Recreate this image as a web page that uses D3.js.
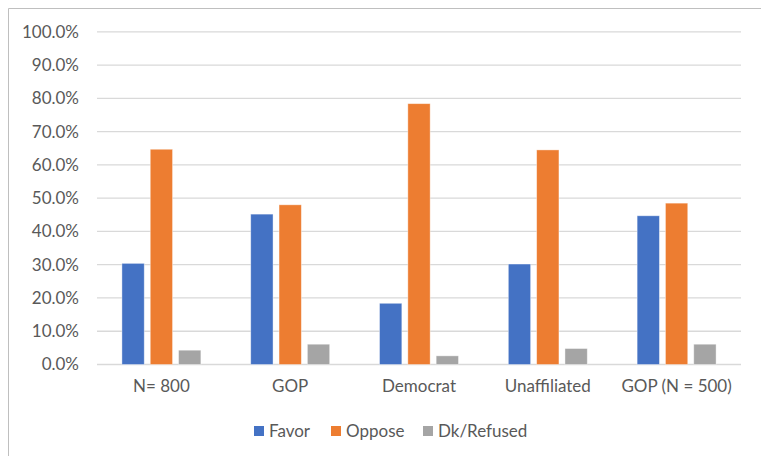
<!DOCTYPE html>
<html><head><meta charset="utf-8">
<script src="https://cdn.jsdelivr.net/npm/d3@7"></script>
<style>body{margin:0;background:#fff;}svg{display:block;font-family:Lato, "Open Sans", sans-serif;}</style>
</head><body>
<script>
const categories = ["N= 800", "GOP", "Democrat", "Unaffiliated", "GOP (N = 500)"];
const seriesNames = ["Favor", "Oppose", "Dk/Refused"];
const favor = [30.4, 45.2, 18.4, 30.2, 44.7];
const oppose = [64.7, 48.0, 78.4, 64.5, 48.5];
const dkRefused = [4.3, 6.1, 2.6, 4.8, 6.1];
const yTicks = [0, 10, 20, 30, 40, 50, 60, 70, 80, 90, 100];
const colors = ["#4472C4", "#ED7D31", "#A5A5A5"];

const W = 761, H = 456;
const svg = d3.select("body").append("svg").attr("width", W).attr("height", H);

// chart frame (only top and left edges visible)
svg.append("path").attr("d", "M8.5,456 L8.5,8.5 L761,8.5").attr("fill","none").attr("stroke","#bfbfbf").attr("stroke-width",1);

const x0 = d3.scaleBand().domain(categories).range([97, 741]);
const x1 = d3.scaleBand().domain(seriesNames).range([0, x0.bandwidth()]).paddingInner(0.212).paddingOuter(0.88);
const y = d3.scaleLinear().domain([0, 100]).range([364.5, 31.8]);

// gridlines
svg.append("g").selectAll("line").data(yTicks).join("line")
  .attr("x1", 97).attr("x2", 741)
  .attr("y1", d => y(d)).attr("y2", d => y(d))
  .attr("stroke", "#d9d9d9").attr("stroke-width", 1.3);

// y axis labels
const yAxis = d3.axisLeft(y).tickValues(yTicks).tickSize(0).tickPadding(0).tickFormat(d => d.toFixed(1) + "%");
const ya = svg.append("g").attr("transform", "translate(79,0)").call(yAxis);
ya.select(".domain").remove();
ya.selectAll("text").attr("fill", "#595959").style("font-size", "17px").style("font-family", "Lato, sans-serif");

// x axis labels
const xAxis = d3.axisBottom(x0).tickSize(0).tickPadding(0);
const xa = svg.append("g").attr("transform", "translate(0,380)").call(xAxis);
xa.select(".domain").remove();
xa.selectAll("text").attr("fill", "#595959").style("font-size", "17px").style("font-family", "Lato, sans-serif");

// bars
const data = categories.map((c, i) => ({cat: c, vals: [favor[i], oppose[i], dkRefused[i]]}));
const groups = svg.append("g").selectAll("g").data(data).join("g")
  .attr("transform", d => `translate(${x0(d.cat)},0)`);
groups.selectAll("rect").data(d => d.vals.map((v, j) => ({name: seriesNames[j], v, j})))
  .join("rect")
  .attr("x", d => x1(d.name)).attr("width", x1.bandwidth())
  .attr("y", d => y(d.v)).attr("height", d => y(0) - y(d.v))
  .attr("fill", d => colors[d.j])
  .attr("stroke", "#ffffff").attr("stroke-opacity", 0.5).attr("stroke-width", 0.8);

// legend
const legendX = [254, 331, 423];
const lg = svg.append("g").selectAll("g").data(seriesNames).join("g")
  .attr("transform", (d, i) => `translate(${legendX[i]},431)`);
lg.append("rect").attr("x", 0).attr("y", -5).attr("width", 10).attr("height", 10)
  .attr("fill", (d, i) => colors[i]);
lg.append("text").attr("x", 15).attr("y", 0).attr("dy", "0.35em")
  .attr("fill", "#595959").style("font-size", "17px").text(d => d);
</script>
</body></html>
